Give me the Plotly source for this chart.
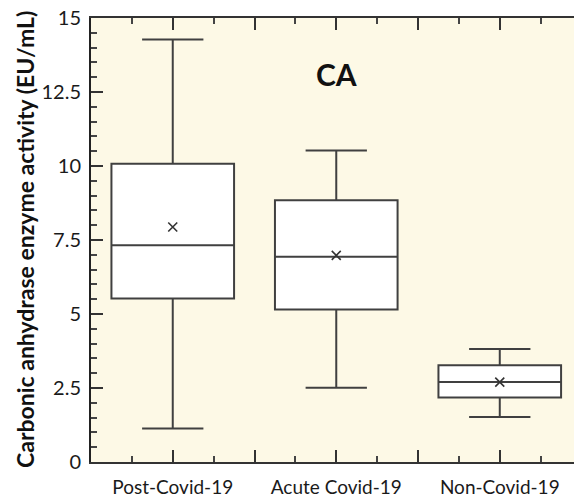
import numpy as np
import plotly.graph_objects as go

categories = ["Post-Covid-19", "Acute Covid-19", "Non-Covid-19"]
q1 = [5.52, 5.15, 2.18]
median = [7.32, 6.93, 2.70]
q3 = [10.08, 8.84, 3.27]
lower_whisker = [1.13, 2.51, 1.52]
upper_whisker = [14.27, 10.52, 3.82]
means = [7.94, 6.98, 2.70]
y_tick_values = [0, 2.5, 5, 7.5, 10, 12.5, 15]
y_tick_labels = ["0", "2.5", "5", "7.5", "10", "12.5", "15"]

FONT = "Lato"
positions = list(range(len(categories)))

fig = go.Figure()
for i, cat in enumerate(categories):
    fig.add_trace(go.Box(
        x=[positions[i]], q1=[q1[i]], median=[median[i]], q3=[q3[i]],
        lowerfence=[lower_whisker[i]], upperfence=[upper_whisker[i]],
        name=cat, width=0.75, whiskerwidth=0.5, boxpoints=False,
        fillcolor="white", line=dict(color="#404040", width=2),
        showlegend=False, hoverinfo="skip",
    ))
fig.add_trace(go.Scatter(
    x=positions, y=means, mode="markers",
    marker=dict(symbol="x-thin", size=9, line=dict(color="#333333", width=1.6)),
    showlegend=False, hoverinfo="skip",
))

x_tickvals = list(np.arange(-0.5, len(categories) + 0.01, 0.5))
x_ticktext = [categories[int(v)] if float(v).is_integer() and 0 <= v < len(categories) else "" for v in x_tickvals]

fig.update_layout(
    width=574, height=497,
    margin=dict(l=91, r=0, t=18, b=35),
    paper_bgcolor="white", plot_bgcolor="#FDF9E6",
    font=dict(family=FONT, color="#1a1a1a"),
    xaxis=dict(
        range=[-0.5, 2.454], tickmode="array", tickvals=x_tickvals, ticktext=x_ticktext,
        ticks="inside", ticklen=12, tickwidth=2, tickcolor="#333333",
        minor=dict(dtick=0.25, tick0=-0.5, ticks="inside", ticklen=6, tickwidth=1.5, tickcolor="#444444"),
        showline=True, linecolor="#333333", linewidth=2, mirror="ticks",
        showgrid=False, zeroline=False, tickfont=dict(size=19, family=FONT),
        ticklabelstandoff=7, automargin=False, ticklabeloverflow="allow",
    ),
    yaxis=dict(
        range=[0, 15], tickmode="array", tickvals=y_tick_values, ticktext=y_tick_labels,
        ticks="inside", ticklen=12, tickwidth=2, tickcolor="#333333",
        minor=dict(dtick=0.5, tick0=0, ticks="inside", ticklen=6, tickwidth=1.5, tickcolor="#444444"),
        showline=True, linecolor="#222222", linewidth=2,
        showgrid=False, zeroline=False, tickfont=dict(size=20, family=FONT),
        ticklabelstandoff=4, automargin=False, ticklabeloverflow="allow",
    ),
    yaxis2=dict(
        overlaying="y", side="right", range=[0, 15], tickmode="array", tickvals=y_tick_values,
        showticklabels=False, ticks="inside", ticklen=12, tickwidth=2, tickcolor="#555555",
        minor=dict(dtick=0.5, tick0=0, ticks="inside", ticklen=6, tickwidth=1.5, tickcolor="#666666"),
        showline=False, showgrid=False, zeroline=False, automargin=False,
    ),
    annotations=[
        dict(text="<b>CA</b>", x=1, y=13.1, xref="x", yref="y", showarrow=False,
             font=dict(size=30, family=FONT, color="#111111")),
        dict(text="<b>Carbonic anhydrase enzyme activity (EU/mL)</b>", textangle=-90,
             x=-(91 - 25) / 483, y=0.5, xref="paper", yref="paper", showarrow=False,
             xanchor="center", yanchor="middle",
             font=dict(size=23, family=FONT, color="#111111")),
    ],
)

fig.write_html("out.html", config={"displayModeBar": False},
               post_script="document.body.style.margin='0';")
